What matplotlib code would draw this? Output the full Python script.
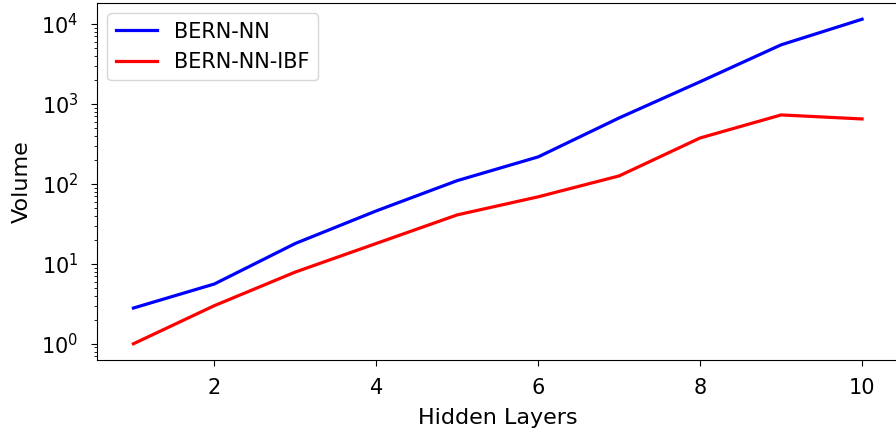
import matplotlib
matplotlib.use("Agg")
import matplotlib.pyplot as plt

hidden_layers = [1, 2, 3, 4, 5, 6, 7, 8, 9, 10]
vol_bern_nn = [2.8, 5.6, 18, 46, 110, 218, 670, 1900, 5500, 11500]
vol_bern_nn_ibf = [1.0, 3.0, 7.9, 18, 41, 69, 126, 376, 730, 650]

fig = plt.figure(figsize=(8.96, 4.34), dpi=100)
ax = fig.add_axes([97/896, 74/434, 801.5/896, 357/434])

ax.plot(hidden_layers, vol_bern_nn, color='blue', linewidth=2.3, label='BERN-NN')
ax.plot(hidden_layers, vol_bern_nn_ibf, color='red', linewidth=2.3, label='BERN-NN-IBF')
ax.set_yscale('log')
ax.set_xlabel('Hidden Layers', fontsize=16, labelpad=7)
ax.set_ylabel('Volume', fontsize=16, labelpad=7)
ax.tick_params(axis='both', which='major', labelsize=15, length=4.3, pad=9)
ax.tick_params(axis='y', which='minor', length=2.5)
ax.legend(loc='upper left', fontsize=15)

fig.savefig('out.png', dpi=100)
